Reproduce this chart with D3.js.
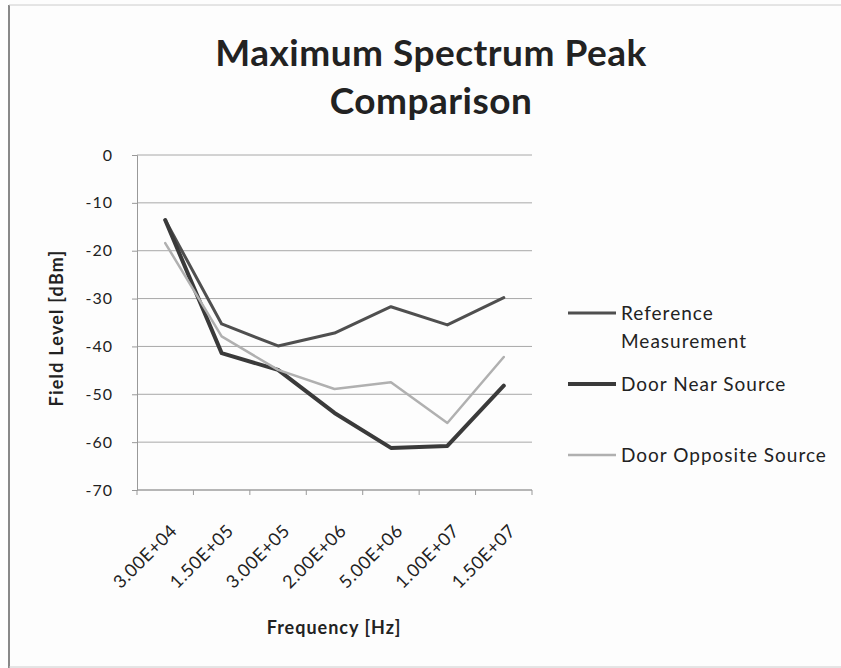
<!DOCTYPE html>
<html>
<head>
<meta charset="utf-8">
<script src="https://cdn.jsdelivr.net/npm/d3@7"></script>
<style>
  body { margin: 0; background: #fdfdfd; }
  text { font-family: Lato, "Open Sans", sans-serif; fill: #222; }
</style>
</head>
<body>
<div id="chart"></div>
<script>
  // values
  var categories = ['3.00E+04', '1.50E+05', '3.00E+05', '2.00E+06', '5.00E+06', '1.00E+07', '1.50E+07'];
  var reference = [-13.6, -35.3, -39.9, -37.2, -31.7, -35.5, -29.8];
  var doorNear = [-13.6, -41.4, -44.9, -53.9, -61.2, -60.8, -48.2];
  var doorOpposite = [-18.4, -37.9, -44.9, -48.9, -47.5, -56.0, -42.2];
  var yTicks = [0, -10, -20, -30, -40, -50, -60, -70];

  var series = [
    { name: ['Reference', 'Measurement'], values: reference, color: '#4f4f4f', w: 3 },
    { name: ['Door Near Source'], values: doorNear, color: '#3a3a3a', w: 4 },
    { name: ['Door Opposite Source'], values: doorOpposite, color: '#b0b0b0', w: 2.5 }
  ];

  var width = 841;
  var height = 668;
  var plot = { left: 137, right: 532, top: 155, bottom: 490 };

  var svg = d3.select('#chart')
    .append('svg')
    .attr('width', width)
    .attr('height', height);

  // chart frame
  svg.append('line').attr('x1', 9).attr('x2', 9).attr('y1', 5).attr('y2', 668)
    .attr('stroke', '#888').attr('stroke-width', 2);
  svg.append('line').attr('x1', 9).attr('x2', 841).attr('y1', 5).attr('y2', 5)
    .attr('stroke', '#ccc').attr('stroke-width', 1);
  svg.append('line').attr('x1', 9).attr('x2', 841).attr('y1', 667).attr('y2', 667)
    .attr('stroke', '#ccc').attr('stroke-width', 1);

  var x = d3.scaleBand().domain(categories).range([plot.left, plot.right]);
  var y = d3.scaleLinear().domain([-70, 0]).range([plot.bottom, plot.top]);

  // title
  var title = svg.append('text')
    .attr('text-anchor', 'middle')
    .style('font-size', '37px')
    .style('font-weight', 'bold')
    .style('letter-spacing', '0.5px');
  title.append('tspan').attr('x', 431).attr('y', 66).text('Maximum Spectrum Peak');
  title.append('tspan').attr('x', 431).attr('y', 114).text('Comparison');

  // gridlines
  svg.append('g')
    .selectAll('line')
    .data(yTicks)
    .enter()
    .append('line')
    .attr('x1', plot.left)
    .attr('x2', plot.right)
    .attr('y1', function(d) { return y(d); })
    .attr('y2', function(d) { return y(d); })
    .attr('stroke', '#a8a8a8')
    .attr('stroke-width', 1);

  // y axis
  var yAxis = svg.append('g')
    .attr('transform', 'translate(' + plot.left + ',0)')
    .call(d3.axisLeft(y).tickValues(yTicks).tickSize(5).tickPadding(19).tickFormat(function(d) { return String(d); }));
  yAxis.select('.domain').attr('stroke', '#999');
  yAxis.selectAll('.tick line').attr('stroke', '#999');
  yAxis.selectAll('text')
    .style('font-size', '16px')
    .style('letter-spacing', '1px')
    .attr('fill', '#222')
    .style('font-family', 'Lato, sans-serif');

  // x axis, ticks between categories
  var xg = svg.append('g').attr('transform', 'translate(0,' + plot.bottom + ')');
  var bounds = categories.map(function(c) { return x(c); }).concat([plot.right]);
  xg.append('line').attr('x1', plot.left).attr('x2', plot.right)
    .attr('stroke', '#999');
  xg.selectAll('line.tk')
    .data(bounds)
    .enter()
    .append('line')
    .attr('class', 'tk')
    .attr('x1', function(d) { return d; })
    .attr('x2', function(d) { return d; })
    .attr('y1', 0)
    .attr('y2', 5)
    .attr('stroke', '#999');
  xg.selectAll('text')
    .data(categories)
    .enter()
    .append('text')
    .attr('text-anchor', 'end')
    .style('font-size', '18px')
    .style('letter-spacing', '0.5px')
    .attr('transform', function(d) {
      return 'translate(' + (x(d) + x.bandwidth() / 2 + 13) + ',42) rotate(-45)';
    })
    .text(function(d) { return d; });

  // axis titles
  svg.append('text')
    .attr('text-anchor', 'middle')
    .attr('transform', 'translate(63,328) rotate(-90)')
    .style('font-size', '18px')
    .style('font-weight', 'bold')
    .style('letter-spacing', '1.2px')
    .text('Field Level [dBm]');
  svg.append('text')
    .attr('x', 334)
    .attr('y', 634)
    .attr('text-anchor', 'middle')
    .style('font-size', '18px')
    .style('font-weight', 'bold')
    .style('letter-spacing', '1px')
    .text('Frequency [Hz]');

  // lines
  var line = d3.line()
    .x(function(d, i) { return x(categories[i]) + x.bandwidth() / 2; })
    .y(function(d) { return y(d); });

  svg.append('g')
    .selectAll('path')
    .data(series)
    .enter()
    .append('path')
    .attr('d', function(d) { return line(d.values); })
    .attr('fill', 'none')
    .attr('stroke', function(d) { return d.color; })
    .attr('stroke-width', function(d) { return d.w; })
    .attr('stroke-linejoin', 'round')
    .attr('stroke-linecap', 'round');

  // legend
  var legendY = [313, 384, 455];
  var lg = svg.append('g')
    .selectAll('g')
    .data(series)
    .enter()
    .append('g')
    .attr('transform', function(d, i) { return 'translate(568,' + legendY[i] + ')'; });
  lg.append('line')
    .attr('x1', 0)
    .attr('x2', 48)
    .attr('stroke', function(d) { return d.color; })
    .attr('stroke-width', function(d) { return d.w; });
  lg.append('text')
    .attr('y', 7)
    .style('font-size', '19px')
    .style('letter-spacing', '1px')
    .each(function(d) {
      var t = d3.select(this);
      d.name.forEach(function(n, i) {
        t.append('tspan').attr('x', 53).attr('dy', i ? 28 : 0).text(n);
      });
    });
</script>
</body>
</html>
